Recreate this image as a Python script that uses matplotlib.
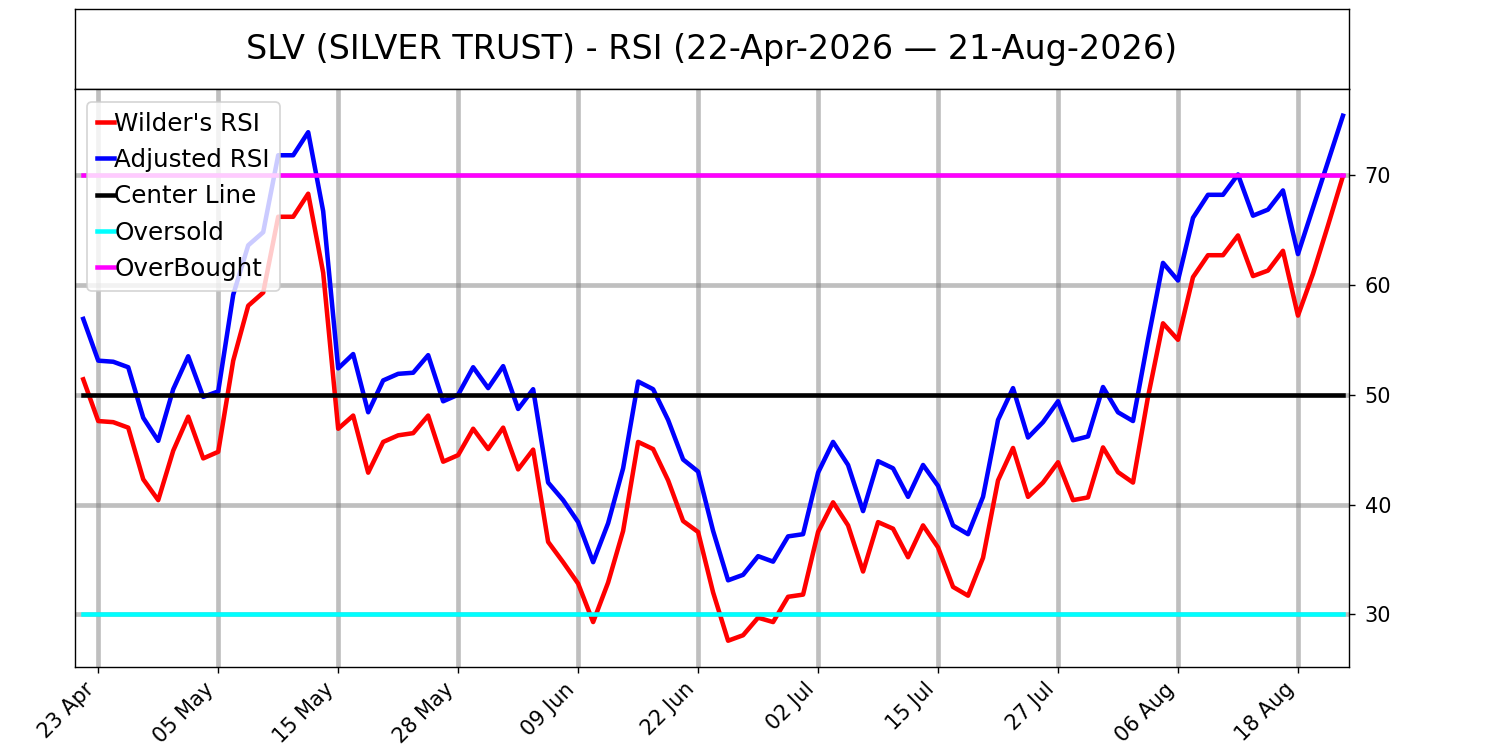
import numpy as np
import pandas as pd
import matplotlib
matplotlib.use("Agg")
import matplotlib.pyplot as plt

title_text = "SLV (SILVER TRUST) - RSI (22-Apr-2026 \u2014 21-Aug-2026)"

start_date = "2026-04-22"
end_date = "2026-08-21"
market_holidays = ["2026-05-25", "2026-06-19", "2026-07-03"]

wilders_rsi = [
    51.4, 47.6, 47.5, 47.0, 42.3, 40.4, 44.9, 48.0, 44.2, 44.8,
    53.1, 58.1, 59.3, 66.2, 66.2, 68.3, 61.1, 46.9, 48.1, 42.9,
    45.7, 46.3, 46.5, 48.1, 43.9, 44.5, 46.9, 45.05, 47.0, 43.2,
    45.0, 36.6, 34.75, 32.8, 29.3, 32.9, 37.6, 45.7, 45.05, 42.2,
    38.5, 37.5, 32.0, 27.6, 28.1, 29.7, 29.3, 31.6, 31.8, 37.5,
    40.2, 38.1, 33.9, 38.4, 37.8, 35.2, 38.1, 36.1, 32.5, 31.7,
    35.15, 42.2, 45.15, 40.7, 42.0, 43.85, 40.4, 40.65, 45.2, 42.95,
    42.0, 49.8, 56.5, 55.0, 60.7, 62.7, 62.7, 64.5, 60.8, 61.3,
    63.1, 57.2, 61.0, 65.4, 69.9,
]

adjusted_rsi = [
    56.9, 53.1, 53.0, 52.5, 47.9, 45.8, 50.5, 53.5, 49.8, 50.3,
    59.1, 63.6, 64.8, 71.8, 71.8, 73.9, 66.7, 52.4, 53.7, 48.4,
    51.3, 51.9, 52.0, 53.6, 49.4, 50.0, 52.5, 50.6, 52.6, 48.7,
    50.5, 42.0, 40.4, 38.4, 34.75, 38.3, 43.3, 51.2, 50.5, 47.7,
    44.1, 43.0, 37.6, 33.1, 33.6, 35.3, 34.8, 37.1, 37.3, 42.9,
    45.7, 43.6, 39.4, 43.95, 43.3, 40.7, 43.6, 41.7, 38.1, 37.3,
    40.7, 47.7, 50.6, 46.1, 47.5, 49.4, 45.85, 46.2, 50.7, 48.4,
    47.6, 55.0, 62.0, 60.4, 66.1, 68.2, 68.2, 70.05, 66.3, 66.85,
    68.6, 62.8, 67.0, 71.2, 75.4,
]

center_level = 50
oversold_level = 30
overbought_level = 70

series_labels = ["Wilder's RSI", "Adjusted RSI", "Center Line", "Oversold", "OverBought"]
series_colors = ["red", "blue", "black", "cyan", "magenta"]

y_ticks = [30, 40, 50, 60, 70]
tick_first = 1
tick_step = 8

dates = pd.bdate_range(start_date, end_date, freq="C", holidays=market_holidays)
n = len(dates)
x = np.arange(n)

fig = plt.figure(figsize=(12, 6), dpi=125)

ax_t = fig.add_axes([0.05, 0.8807, 0.8493, 0.1073])
ax_t.set_xticks([])
ax_t.set_yticks([])
ax_t.text(0.5, 0.5, title_text, ha="center", va="center", fontsize=19.25,
          transform=ax_t.transAxes)

ax = fig.add_axes([0.05, 0.1107, 0.8493, 0.77])
lw = 2.6
ax.plot(x, wilders_rsi, color=series_colors[0], lw=lw, label=series_labels[0])
ax.plot(x, adjusted_rsi, color=series_colors[1], lw=lw, label=series_labels[1])
ax.plot(x, [center_level] * n, color=series_colors[2], lw=lw, label=series_labels[2])
ax.plot(x, [oversold_level] * n, color=series_colors[3], lw=lw, label=series_labels[3])
ax.plot(x, [overbought_level] * n, color=series_colors[4], lw=lw, label=series_labels[4])

ax.set_xlim(-0.55, n - 1 + 0.4)
ax.yaxis.tick_right()
ax.set_yticks(y_ticks)
ax.set_yticklabels([str(v) for v in y_ticks])
ax.tick_params(axis="both", labelsize=12)
ax.tick_params(axis="y", pad=5.5)

tick_pos = x[tick_first::tick_step]
tick_labels = [d.strftime("%d %b") for d in dates[tick_first::tick_step]]
ax.set_xticks(tick_pos)
ax.set_xticklabels(tick_labels, rotation=45, ha="right")

ax.grid(True, color="gray", alpha=0.5, lw=2.7)

ax.legend(loc="upper left", fontsize=14.2, handlelength=0.7, handletextpad=0.0)

fig.savefig("out.png", dpi=125)
